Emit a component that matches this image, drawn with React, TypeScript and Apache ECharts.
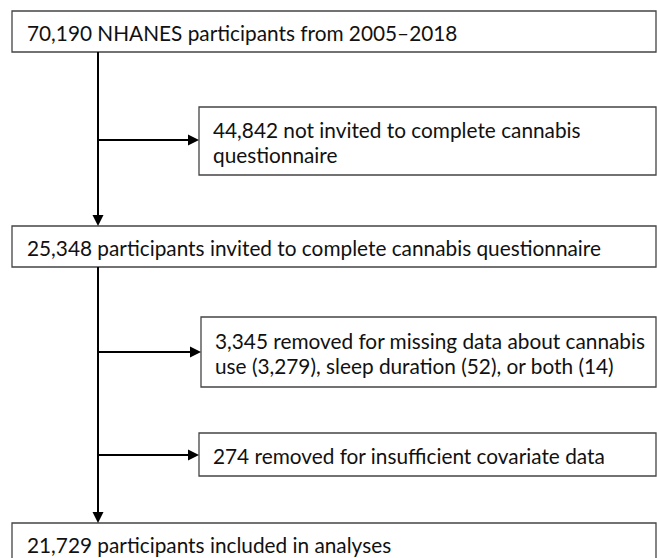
import React, { useEffect, useRef } from "react";
import * as echarts from "echarts";

// Main flow boxes (full width)
const mainLabels: string[] = [
  "70,190 NHANES participants from 2005–2018",
  "25,348 participants invited to complete cannabis questionnaire",
  "21,729 participants included in analyses",
];
// Exclusion boxes (right side)
const exclusionLabels: string[] = [
  "44,842 not invited to complete cannabis\nquestionnaire",
  "3,345 removed for missing data about cannabis\nuse (3,279), sleep duration (52), or both (14)",
  "274 removed for insufficient covariate data",
];

// layout
const mainBoxes = [
  { y: 11, h: 41 },
  { y: 226, h: 41 },
  { y: 523, h: 41 },
];
const exBoxes = [
  { x: 199, y: 107, h: 68, ay: 140 },
  { x: 201, y: 317, h: 70, ay: 352 },
  { x: 199, y: 433, h: 43, ay: 455 },
];
const LEFT = 12;
const RIGHT = 656;
const SPINE_X = 98;
const FONT = '20.8px Lato';
const TEXT_COLOR = '#111';
const BORDER = '#444';

function arrowHead(tipX: number, tipY: number, dir: 'down' | 'right') {
  const L = 11, W = 5.5;
  const pts = dir === 'down'
    ? [[tipX - W, tipY - L], [tipX + W, tipY - L], [tipX, tipY]]
    : [[tipX - L, tipY - W], [tipX - L, tipY + W], [tipX, tipY]];
  return { type: 'polygon', shape: { points: pts }, style: { fill: '#000' }, z: 10 };
}

export default function App() {
  const ref = useRef<HTMLDivElement>(null);
  useEffect(() => {
    if (!ref.current) return;
    const chart = echarts.init(ref.current, null, { renderer: 'svg' });
    const els: any[] = [];
    mainLabels.forEach((t, i) => {
      const b = mainBoxes[i];
      els.push({ type: 'rect', shape: { x: LEFT, y: b.y, width: RIGHT - LEFT, height: b.h }, style: { fill: '#fff', stroke: BORDER, lineWidth: 1.3 } });
      els.push({ type: 'text', x: 27, y: b.y + 21, style: { text: t, font: FONT, fill: TEXT_COLOR, textVerticalAlign: 'middle' }, z: 5 });
    });
    exclusionLabels.forEach((t, i) => {
      const b = exBoxes[i];
      els.push({ type: 'rect', shape: { x: b.x, y: b.y, width: RIGHT - b.x, height: b.h }, style: { fill: '#fff', stroke: BORDER, lineWidth: 1.3 } });
      els.push({ type: 'text', x: b.x + 14, y: b.y + b.h / 2 + 1, style: { text: t, font: FONT, fill: TEXT_COLOR, textVerticalAlign: 'middle', lineHeight: 25 }, z: 5 });
      els.push({ type: 'line', shape: { x1: SPINE_X, y1: b.ay, x2: b.x - 8, y2: b.ay }, style: { stroke: '#000', lineWidth: 2 } });
      els.push(arrowHead(b.x, b.ay, 'right'));
    });
    // spines
    els.push({ type: 'line', shape: { x1: SPINE_X, y1: mainBoxes[0].y + mainBoxes[0].h, x2: SPINE_X, y2: mainBoxes[1].y - 8 }, style: { stroke: '#000', lineWidth: 2 } });
    els.push(arrowHead(SPINE_X, mainBoxes[1].y, 'down'));
    els.push({ type: 'line', shape: { x1: SPINE_X, y1: mainBoxes[1].y + mainBoxes[1].h, x2: SPINE_X, y2: mainBoxes[2].y - 8 }, style: { stroke: '#000', lineWidth: 2 } });
    els.push(arrowHead(SPINE_X, mainBoxes[2].y, 'down'));

    chart.setOption({ animation: false, backgroundColor: '#fff', graphic: { elements: els } });
    return () => chart.dispose();
  }, []);
  return <div ref={ref} style={{ position: 'fixed', left: 0, top: 0, width: 657, height: 558, background: '#fff' }} />;
}
